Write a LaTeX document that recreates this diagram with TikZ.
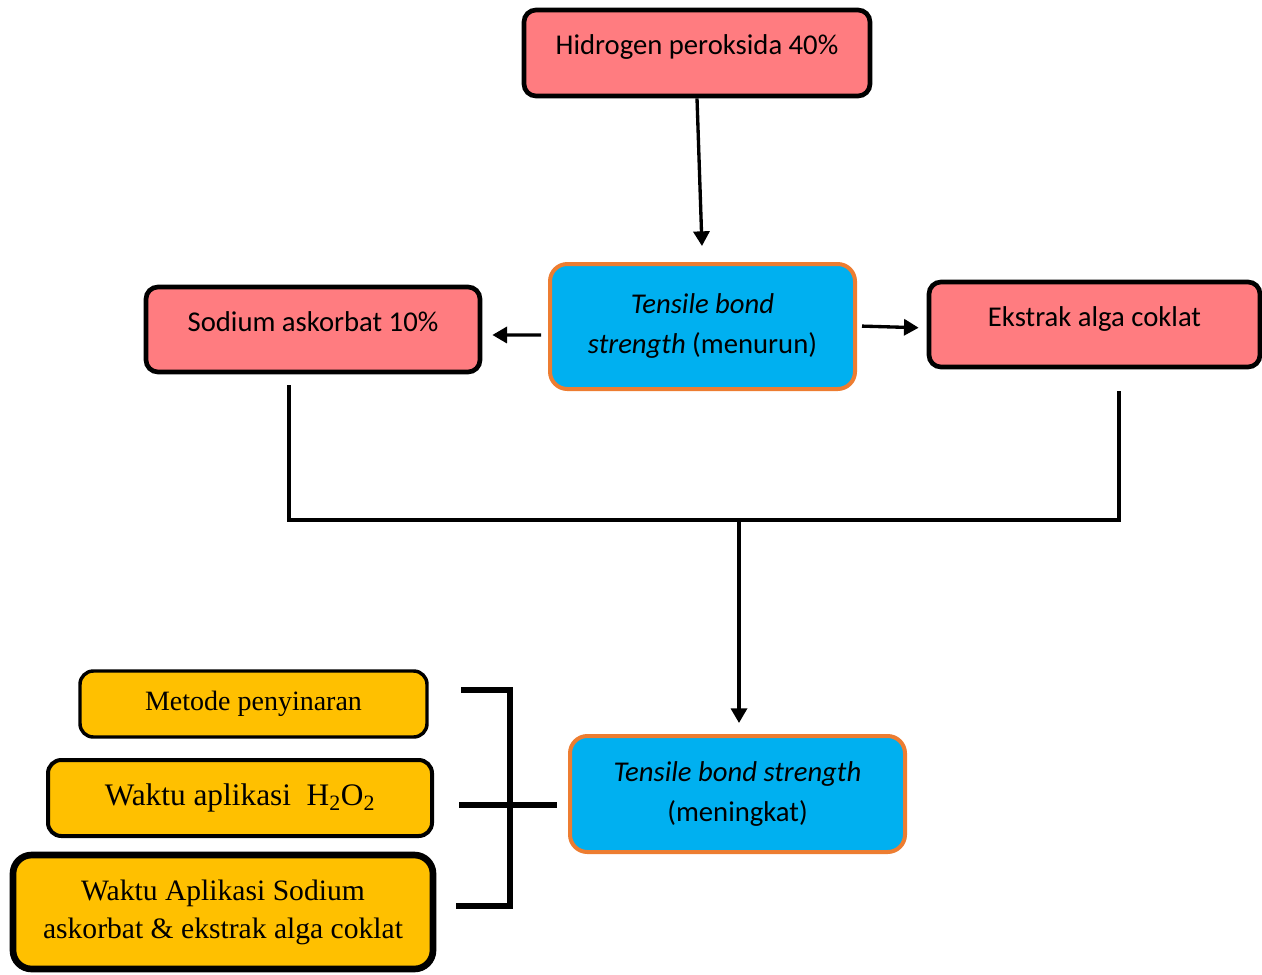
\documentclass[tikz,border=0pt]{standalone}
\usepackage{fontspec}
\setmainfont{Carlito}
\newfontfamily\tnr{Liberation Serif}
\usetikzlibrary{arrows.meta}
\definecolor{pinkc}{HTML}{FF7C80}
\definecolor{bluec}{HTML}{00B0F0}
\definecolor{orangec}{HTML}{ED7D31}
\definecolor{yellowc}{HTML}{FFC000}
\begin{document}
\begin{tikzpicture}[x=0.75pt,y=-0.75pt,
  pinkbox/.style={draw=black,line width=3.5pt,fill=pinkc,rounded corners=9pt,
    font=\fontsize{21.5}{30}\selectfont,text height=16pt,text depth=13pt,inner sep=0pt},
  bluebox/.style={draw=orangec,line width=3pt,fill=bluec,rounded corners=13pt,
    font=\fontsize{21.5}{30}\selectfont,align=center,inner sep=0pt},
  ybox/.style={draw=black,fill=yellowc,rounded corners=12pt,align=center,inner sep=0pt},
  ln/.style={line width=2.4pt},
  arr/.style={line width=2.5pt,-{Triangle[length=11pt,width=12pt]}},
  brk/.style={line width=4.5pt}]
\useasboundingbox (0,0) rectangle (1262,974);

\node[pinkbox,minimum width=259.5pt,minimum height=64.5pt] (hp) at (697,53) {Hidrogen peroksida 40\%};
\node[pinkbox,minimum width=250.5pt,minimum height=63.75pt] (sa) at (313,329.5) {Sodium askorbat 10\%};
\node[bluebox,minimum width=228.75pt,minimum height=93.75pt] (t1) at (702.5,326.5) {\textit{Tensile bond}\\\textit{strength} (menurun)};
\node[pinkbox,minimum width=248.25pt,minimum height=63.75pt] (ek) at (1094.5,324.5) {Ekstrak alga coklat};
\node[bluebox,minimum width=251.25pt,minimum height=87pt] (t2) at (737.5,794) {\textit{Tensile bond strength}\\(meningkat)};

\node[ybox,line width=2.6pt,rounded corners=10pt,minimum width=260.25pt,minimum height=49.5pt,
  font=\tnr\fontsize{21}{24}\selectfont] (mp) at (253.5,704) {Metode penyinaran};
\node[ybox,line width=3pt,rounded corners=10pt,minimum width=288pt,minimum height=57pt,
  font=\tnr\fontsize{23.5}{26}\selectfont] (wh) at (240,798) {Waktu aplikasi~~H\textsubscript{2}O\textsubscript{2}};
\node[ybox,line width=5pt,rounded corners=14pt,minimum width=315pt,minimum height=85.5pt,
  font=\tnr\fontsize{22.2}{28.5}\selectfont] (ws) at (223,912) {Waktu Aplikasi Sodium\\askorbat \& ekstrak alga coklat};

% arrows from central box
\draw[arr,shorten >=12pt] (hp.south) -- (t1.north);
\draw[arr,shorten <=5.25pt,shorten >=7.5pt] ([yshift=-6.4pt]t1.west) -- ([yshift=-4.1pt]sa.east);
\draw[arr,shorten <=3.75pt,shorten >=6pt] ([yshift=0.4pt]t1.east) -- ([yshift=-2.6pt]ek.west);

% joining lines
\coordinate (jn) at (739,520);
\draw[ln] ([xshift=-18pt,yshift=-8.25pt]sa.south) |- (jn) -| ([xshift=18.4pt,yshift=-16.5pt]ek.south);
\draw[arr,shorten >=8.25pt] (jn) -- (jn |- t2.north);

% bracket
\coordinate (bt) at (510,690);
\coordinate (bb) at (510,906);
\coordinate (bm) at (459,805);
\draw[brk] (bt -| 461,0) -- (bt) -- (bb) -- (bb -| 456,0);
\draw[brk,shorten >=8.25pt] (bm) -- (bm -| t2.west);
\end{tikzpicture}
\end{document}
